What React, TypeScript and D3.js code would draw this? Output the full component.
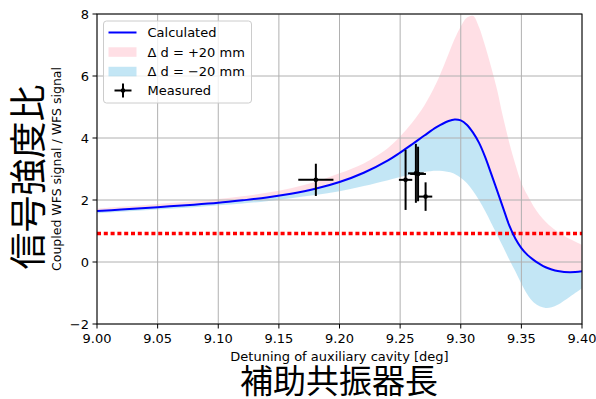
import React from "react";
import * as d3 from "d3";

// Detuning grid shared by the three calculated curves [deg]
const detuning = [
  9.0, 9.02, 9.04, 9.06, 9.08, 9.1, 9.12, 9.14, 9.16, 9.18, 9.2, 9.22, 9.24, 9.25,
  9.26, 9.27, 9.28, 9.29, 9.295, 9.3, 9.305, 9.31, 9.315, 9.32, 9.325, 9.33, 9.335,
  9.34, 9.345, 9.35, 9.355, 9.36, 9.365, 9.37, 9.375, 9.38, 9.39, 9.4,
];
// Calculated signal ratio (nominal length)
const calculated = [
  1.645, 1.69, 1.74, 1.8, 1.85, 1.91, 1.99, 2.08, 2.2, 2.36, 2.58, 2.88, 3.28, 3.53,
  3.8, 4.08, 4.35, 4.55, 4.6, 4.57, 4.43, 4.18, 3.85, 3.4, 2.86, 2.3, 1.74,
  1.18, 0.76, 0.45, 0.23, 0.07, -0.06, -0.17, -0.24, -0.29, -0.33, -0.3,
];
// Ratio with the auxiliary cavity 20 mm longer
const plus20 = [
  1.72, 1.78, 1.84, 1.9, 1.96, 2.03, 2.12, 2.23, 2.38, 2.58, 2.86, 3.18, 3.68, 4.05,
  4.5, 5.05, 5.78, 6.72, 7.2, 7.6, 7.88, 7.94, 7.58, 6.98, 6.3, 5.55, 4.65,
  3.85, 3.15, 2.55, 2.15, 1.8, 1.52, 1.3, 1.12, 0.97, 0.74, 0.55,
];
// Ratio with the auxiliary cavity 20 mm shorter
const minus20 = [
  1.57, 1.62, 1.67, 1.72, 1.77, 1.83, 1.89, 1.96, 2.06, 2.16, 2.28, 2.45, 2.64, 2.74,
  2.83, 2.9, 2.94, 2.9, 2.84, 2.72, 2.55, 2.3, 2.0, 1.65, 1.27, 0.88, 0.48,
  0.08, -0.3, -0.7, -1.05, -1.3, -1.43, -1.48, -1.46, -1.38, -1.12, -0.85,
];

// Measured points with their uncertainties
const measX = [9.1805, 9.2545, 9.263, 9.2648, 9.271];
const measY = [2.65, 2.65, 2.86, 2.84, 2.11];
const measXErr = [0.0145, 0.0055, 0.0065, 0.0065, 0.0055];
const measYErr = [0.52, 0.97, 0.95, 0.88, 0.46];

const thresholdLevel = 0.92;

const xTicks = [9.0, 9.05, 9.1, 9.15, 9.2, 9.25, 9.3, 9.35, 9.4];
const yTicks = [-2, 0, 2, 4, 6, 8];

const legendLabels = ["Calculated", "\u0394 d = +20 mm", "\u0394 d = \u221220 mm", "Measured"];

const W = 596;
const H = 399;
const M = { left: 97, right: 582, top: 14, bottom: 324 };
const FONT = "'DejaVu Sans', sans-serif";
const CJK = "'Noto Sans CJK JP', 'Noto Sans CJK SC', sans-serif";

export default function App() {
  const x = d3.scaleLinear().domain([9.0, 9.4]).range([M.left, M.right]);
  const y = d3.scaleLinear().domain([-2, 8]).range([M.bottom, M.top]);

  const pts = detuning.map((d, i) => ({ d, c: calculated[i], p: plus20[i], m: minus20[i] }));
  const curve = d3.curveCatmullRom.alpha(0.5);

  const areaPlus = d3
    .area<any>()
    .x((d) => x(d.d))
    .y0((d) => y(d.c))
    .y1((d) => y(d.p))
    .curve(curve)(pts) as string;
  const areaMinus = d3
    .area<any>()
    .x((d) => x(d.d))
    .y0((d) => y(d.c))
    .y1((d) => y(d.m))
    .curve(curve)(pts) as string;
  const calcLine = d3
    .line<any>()
    .x((d) => x(d.d))
    .y((d) => y(d.c))
    .curve(curve)(pts) as string;

  const fmtY = (v: number) => (v < 0 ? "\u2212" + Math.abs(v) : String(v));

  const legX = 103.5;
  const legY = 21;
  const rowY = [32.5, 52, 71.5, 90.5];

  return (
    <svg
      width={W}
      height={H}
      style={{ position: "absolute", left: 0, top: 0, background: "#fff" }}
      fontFamily={FONT}
    >
      <defs>
        <clipPath id="plotArea">
          <rect x={M.left} y={M.top} width={M.right - M.left} height={M.bottom - M.top} />
        </clipPath>
      </defs>

      <g clipPath="url(#plotArea)">
        <path d={areaPlus} fill="#ffc0cb" fillOpacity={0.5} />
        <path d={areaMinus} fill="#87ceeb" fillOpacity={0.5} />
      </g>

      {/* grid */}
      <g stroke="#b0b0b0" strokeWidth={1}>
        {xTicks.map((t) => (
          <line key={"gx" + t} x1={x(t)} x2={x(t)} y1={M.top} y2={M.bottom} />
        ))}
        {yTicks.map((t) => (
          <line key={"gy" + t} x1={M.left} x2={M.right} y1={y(t)} y2={y(t)} />
        ))}
      </g>

      <g clipPath="url(#plotArea)">
        <line
          x1={M.left}
          x2={M.right}
          y1={y(thresholdLevel)}
          y2={y(thresholdLevel)}
          stroke="#ff0000"
          strokeWidth={3.5}
          strokeDasharray="4 2.8"
        />
        <path d={calcLine} fill="none" stroke="#0000ff" strokeWidth={2} />
      </g>

      {/* measured points */}
      <g stroke="#000" strokeWidth={2}>
        {measX.map((mx, i) => (
          <g key={"m" + i}>
            <line x1={x(mx - measXErr[i])} x2={x(mx + measXErr[i])} y1={y(measY[i])} y2={y(measY[i])} />
            <line x1={x(mx)} x2={x(mx)} y1={y(measY[i] - measYErr[i])} y2={y(measY[i] + measYErr[i])} />
            <circle cx={x(mx)} cy={y(measY[i])} r={2.3} fill="#000" stroke="none" />
          </g>
        ))}
      </g>

      {/* frame */}
      <rect
        x={M.left}
        y={M.top}
        width={M.right - M.left}
        height={M.bottom - M.top}
        fill="none"
        stroke="#000"
        strokeWidth={1}
      />

      {/* x ticks */}
      {xTicks.map((t) => (
        <g key={"xt" + t}>
          <line x1={x(t)} x2={x(t)} y1={M.bottom} y2={M.bottom + 4.5} stroke="#000" />
          <text x={x(t)} y={M.bottom + 19} fontSize={13} textAnchor="middle" fill="#000">
            {t.toFixed(2)}
          </text>
        </g>
      ))}
      {/* y ticks */}
      {yTicks.map((t) => (
        <g key={"yt" + t}>
          <line x1={M.left - 4.5} x2={M.left} y1={y(t)} y2={y(t)} stroke="#000" />
          <text x={M.left - 8} y={y(t) + 4.7} fontSize={13} textAnchor="end" fill="#000">
            {fmtY(t)}
          </text>
        </g>
      ))}

      {/* axis labels */}
      <text x={(M.left + M.right) / 2} y={361} fontSize={13} textAnchor="middle" fill="#000">
        Detuning of auxiliary cavity [deg]
      </text>
      <text
        transform={`translate(61, ${(M.top + M.bottom) / 2}) rotate(-90)`}
        fontSize={12.5}
        textAnchor="middle"
        fill="#000"
      >
        Coupled WFS signal / WFS signal
      </text>
      <text
        x={339}
        y={393}
        fontSize={33}
        textAnchor="middle"
        fontFamily={CJK}
        fill="#000"
      >
        補助共振器長
      </text>
      <text
        transform={`translate(42, 177) rotate(-90)`}
        fontSize={37}
        textAnchor="middle"
        fontFamily={CJK}
        fill="#000"
      >
        信号強度比
      </text>

      {/* legend */}
      <g>
        <rect
          x={legX}
          y={legY}
          width={148}
          height={82}
          rx={3}
          fill="#fff"
          fillOpacity={0.8}
          stroke="#cccccc"
          strokeWidth={1}
        />
        <line x1={108.5} x2={136.5} y1={rowY[0]} y2={rowY[0]} stroke="#0000ff" strokeWidth={2} />
        <rect x={108.5} y={rowY[1] - 4.7} width={28} height={9.5} fill="#ffc0cb" fillOpacity={0.5} />
        <rect x={108.5} y={rowY[2] - 4.7} width={28} height={9.5} fill="#87ceeb" fillOpacity={0.5} />
        <line x1={114.5} x2={131.5} y1={rowY[3]} y2={rowY[3]} stroke="#000" strokeWidth={2} />
        <line x1={123} x2={123} y1={rowY[3] - 7} y2={rowY[3] + 7} stroke="#000" strokeWidth={2} />
        <circle cx={123} cy={rowY[3]} r={2.3} fill="#000" />
        {legendLabels.map((l, i) => (
          <text key={l} x={147.5} y={rowY[i] + 4.7} fontSize={13} fill="#000">
            {l}
          </text>
        ))}
      </g>
    </svg>
  );
}
